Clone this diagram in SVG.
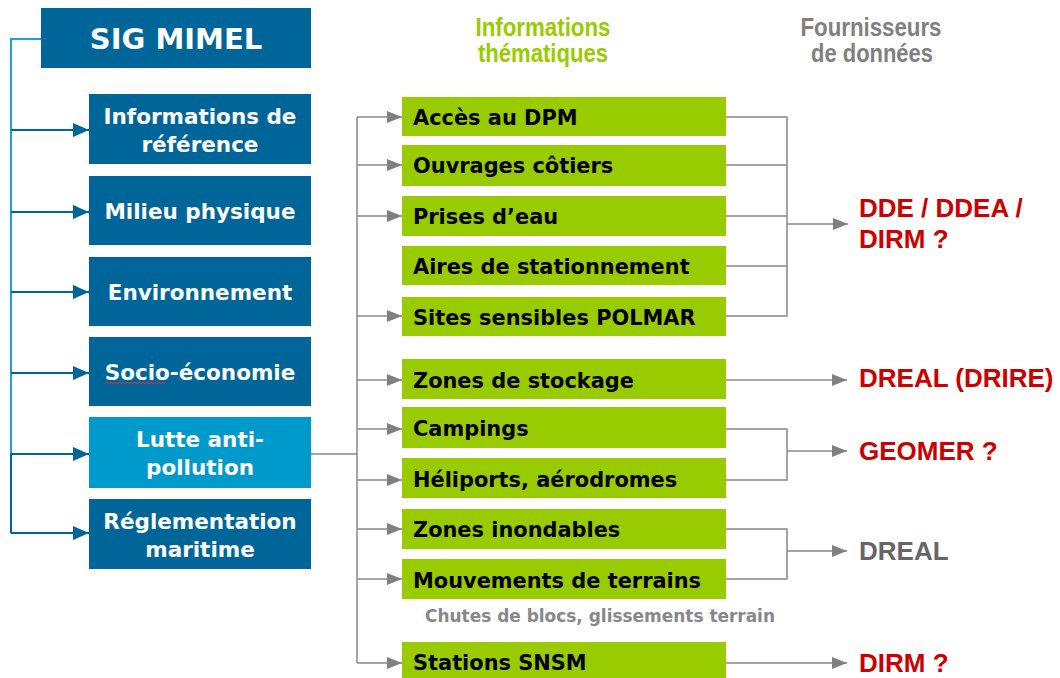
<svg xmlns="http://www.w3.org/2000/svg" width="1060" height="678" viewBox="0 0 1060 678">
<style>
.dk{fill:#006699}
.lt{fill:#0099cc}
.gr{fill:#99cc00}
.wt{fill:#ffffff;font-family:"DejaVu Sans","Liberation Sans",sans-serif;font-weight:bold;font-size:21.5px;text-anchor:middle}
.bt{fill:#000000;font-family:"DejaVu Sans","Liberation Sans",sans-serif;font-weight:bold;font-size:20.9px}
.hd{font-family:"Liberation Sans",Arial,sans-serif;font-weight:bold;font-size:25px;text-anchor:middle}
.rd{fill:#cc0000;font-family:"Liberation Sans",Arial,sans-serif;font-weight:bold;font-size:26px}
.gl{fill:none;stroke:#888888;stroke-width:1.5}
.bl{fill:none;stroke:#006699;stroke-width:2}
.lb{fill:none;stroke:#1aa3d9;stroke-width:2}
</style>
<defs>
<marker id="ag" markerUnits="userSpaceOnUse" markerWidth="16" markerHeight="14" refX="15" refY="6" orient="auto">
<path d="M0,0 L15,6 L0,12 Z" fill="#808080"/>
</marker>
<marker id="ab" markerUnits="userSpaceOnUse" markerWidth="17" markerHeight="16" refX="16" refY="7" orient="auto">
<path d="M0,0 L16,7 L0,14 Z" fill="#006699"/>
</marker>
</defs>
<rect width="1060" height="678" fill="#ffffff"/>

<g id="headers">
<text class="hd" x="543" y="36" fill="#99cc00" textLength="135" lengthAdjust="spacingAndGlyphs">Informations</text>
<text class="hd" x="543" y="62" fill="#99cc00" textLength="130" lengthAdjust="spacingAndGlyphs">thématiques</text>
<text class="hd" x="871" y="36" fill="#808080" textLength="141" lengthAdjust="spacingAndGlyphs">Fournisseurs</text>
<text class="hd" x="872" y="62" fill="#808080" textLength="122" lengthAdjust="spacingAndGlyphs">de données</text>
</g>

<g id="connectors">
<path class="lb" d="M41,39 H11 V454"/>
<path class="bl" d="M11,454 V533"/>
<path class="bl" d="M11,130 H89" marker-end="url(#ab)"/>
<path class="bl" d="M11,212 H89" marker-end="url(#ab)"/>
<path class="bl" d="M11,292 H89" marker-end="url(#ab)"/>
<path class="bl" d="M11,373 H89" marker-end="url(#ab)"/>
<path class="bl" d="M11,454 H89" marker-end="url(#ab)"/>
<path class="bl" d="M11,533 H89" marker-end="url(#ab)"/>

<path class="gl" d="M311,454 H357"/>
<path class="gl" d="M357,117 V663"/>
<path class="gl" d="M357,117 H402" marker-end="url(#ag)"/>
<path class="gl" d="M357,165 H402" marker-end="url(#ag)"/>
<path class="gl" d="M357,216 H402" marker-end="url(#ag)"/>
<path class="gl" d="M357,316 H402" marker-end="url(#ag)"/>
<path class="gl" d="M357,380 H402" marker-end="url(#ag)"/>
<path class="gl" d="M357,429 H402" marker-end="url(#ag)"/>
<path class="gl" d="M357,480 H402" marker-end="url(#ag)"/>
<path class="gl" d="M357,529 H402" marker-end="url(#ag)"/>
<path class="gl" d="M357,579 H402" marker-end="url(#ag)"/>
<path class="gl" d="M357,663 H402" marker-end="url(#ag)"/>

<path class="gl" d="M726,117 H787 V316 H726 M726,165 H787 M726,216 H787 M726,266 H787"/>
<path class="gl" d="M787,224 H848" marker-end="url(#ag)"/>
<path class="gl" d="M726,380 H847" marker-end="url(#ag)"/>
<path class="gl" d="M726,429 H787 V480 H726"/>
<path class="gl" d="M787,451 H847" marker-end="url(#ag)"/>
<path class="gl" d="M726,529 H787 V579 H726"/>
<path class="gl" d="M787,551 H847" marker-end="url(#ag)"/>
<path class="gl" d="M726,663 H847" marker-end="url(#ag)"/>
</g>

<g id="sig-mimel">
<rect class="dk" x="41" y="8" width="270" height="60"/>
<text class="wt" x="176" y="49" style="font-size:29px">SIG MIMEL</text>
</g>
<g id="informations-reference">
<rect class="dk" x="89" y="94" width="222" height="70"/>
<text class="wt" x="200" y="124">Informations de</text>
<text class="wt" x="200" y="152">référence</text>
</g>
<g id="milieu-physique">
<rect class="dk" x="89" y="176" width="222" height="69"/>
<text class="wt" x="200" y="219">Milieu physique</text>
</g>
<g id="environnement">
<rect class="dk" x="89" y="257" width="222" height="69"/>
<text class="wt" x="200" y="300">Environnement</text>
</g>
<g id="socio-economie">
<rect class="dk" x="89" y="337" width="222" height="69"/>
<text class="wt" x="200" y="380">Socio-économie</text>
<path d="M105,384 l2,-2 l2,2 l2,-2 l2,2 l2,-2 l2,2 l2,-2 l2,2 l2,-2 l2,2 l2,-2 l2,2 l2,-2 l2,2 l2,-2 l2,2 l2,-2 l2,2 l2,-2 l2,2 l2,-2 l2,2 l2,-2 l2,2 l2,-2 l2,2 l2,-2 l2,2 l2,-2 l2,2" fill="none" stroke="#e03030" stroke-width="1"/>
</g>
<g id="lutte-anti-pollution">
<rect class="lt" x="89" y="417" width="222" height="71"/>
<text class="wt" x="200" y="447">Lutte anti-</text>
<text class="wt" x="200" y="475">pollution</text>
</g>
<g id="reglementation-maritime">
<rect class="dk" x="89" y="499" width="222" height="70"/>
<text class="wt" x="200" y="529">Réglementation</text>
<text class="wt" x="200" y="557">maritime</text>
</g>

<g id="acces-dpm"><rect class="gr" x="402" y="97" width="324" height="39"/><text class="bt" x="413" y="125">Accès au DPM</text></g>
<g id="ouvrages-cotiers"><rect class="gr" x="402" y="145" width="324" height="41"/><text class="bt" x="413" y="173">Ouvrages côtiers</text></g>
<g id="prises-eau"><rect class="gr" x="402" y="196" width="324" height="40"/><text class="bt" x="413" y="224">Prises d’eau</text></g>
<g id="aires-stationnement"><rect class="gr" x="402" y="246" width="324" height="39"/><text class="bt" x="413" y="274">Aires de stationnement</text></g>
<g id="sites-polmar"><rect class="gr" x="402" y="297" width="324" height="39"/><text class="bt" x="413" y="325">Sites sensibles POLMAR</text></g>
<g id="zones-stockage"><rect class="gr" x="402" y="359" width="324" height="40"/><text class="bt" x="413" y="388">Zones de stockage</text></g>
<g id="campings"><rect class="gr" x="402" y="407" width="324" height="41"/><text class="bt" x="413" y="436">Campings</text></g>
<g id="heliports"><rect class="gr" x="402" y="458" width="324" height="40"/><text class="bt" x="413" y="487">Héliports, aérodromes</text></g>
<g id="zones-inondables"><rect class="gr" x="402" y="509" width="324" height="40"/><text class="bt" x="413" y="537">Zones inondables</text></g>
<g id="mouvements-terrains"><rect class="gr" x="402" y="559" width="324" height="40"/><text class="bt" x="413" y="588">Mouvements de terrains</text></g>
<g id="chutes-note"><text x="425" y="622" fill="#888888" font-family="DejaVu Sans, sans-serif" font-weight="bold" font-size="17" textLength="350" lengthAdjust="spacingAndGlyphs">Chutes de blocs, glissements terrain</text></g>
<g id="stations-snsm"><rect class="gr" x="402" y="642" width="324" height="40"/><text class="bt" x="413" y="670">Stations SNSM</text></g>

<g id="dde-ddea-dirm"><text class="rd" x="859" y="217">DDE / DDEA /</text><text class="rd" x="859" y="248">DIRM ?</text></g>
<g id="dreal-drire"><text class="rd" x="859" y="387">DREAL (DRIRE)</text></g>
<g id="geomer"><text class="rd" x="859" y="460">GEOMER ?</text></g>
<g id="dreal"><text class="rd" x="859" y="560" style="fill:#666666">DREAL</text></g>
<g id="dirm"><text class="rd" x="859" y="672">DIRM ?</text></g>
</svg>
